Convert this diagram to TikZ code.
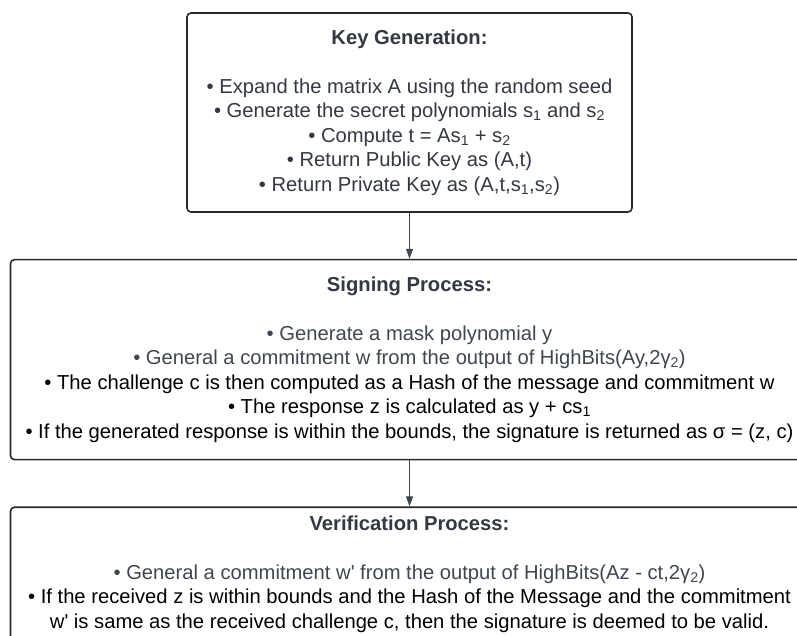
\documentclass[tikz,border=0pt]{standalone}
\usepackage{fontspec}
\setmainfont{Liberation Sans}
\usepackage{xcolor}
\definecolor{inkdark}{RGB}{51,56,66}
\definecolor{inkgray}{RGB}{64,70,80}
\definecolor{edgegray}{RGB}{40,40,40}
\usetikzlibrary{arrows.meta,positioning}

\newcommand{\sub}[1]{\textsubscript{#1}}
\newcommand{\heading}[1]{{\bfseries\color{inkdark}#1}}

\begin{document}
\begin{tikzpicture}[
      x=1pt, y=-1pt,
      font=\fontsize{20.2}{24.5}\selectfont,
      node distance=46pt,
      box/.style={draw=edgegray, line width=1.6pt, rounded corners=4pt,
                  align=center, inner sep=0pt, fill=white},
      arrow/.style={-{Triangle[length=10pt,width=7pt]}, line width=0.9pt, color=inkgray}
  ]
  \useasboundingbox (0,0) rectangle (797,636);

  \node[box, minimum width=445pt, minimum height=199pt, text=inkdark] (keygen) at (409.5,112.5)
    {\heading{Key Generation:}\\[24.5pt]
     \textbullet{} Expand the matrix A using the random seed\\
     \textbullet{} Generate the secret polynomials s\sub{1} and s\sub{2}\\
     \textbullet{} Compute t = As\sub{1} + s\sub{2}\\
     \textbullet{} Return Public Key as (A,t)\\
     \textbullet{} Return Private Key as (A,t,s\sub{1},s\sub{2})};

  \node[box, minimum width=798pt, minimum height=200pt, below=of keygen] (signing)
    {\heading{Signing Process:}\\[24.5pt]
     {\color{inkgray}\textbullet{} Generate a mask polynomial y}\\
     {\color{inkgray}\textbullet{} General a commitment w from the output of HighBits(Ay,2γ\sub{2})}\\
     \textbullet{} The challenge c is then computed as a Hash of the message and commitment w\\
     \textbullet{} The response z is calculated as y + cs\sub{1}\\
     \textbullet{} If the generated response is within the bounds, the signature is returned as σ = (z, c)};

  \node[box, minimum width=798pt, minimum height=134pt, below=of signing] (verify)
    {\heading{Verification Process:}\\[24.5pt]
     {\color{inkgray}\textbullet{} General a commitment w\textquotesingle{} from the output of HighBits(Az - ct,2γ\sub{2})}\\
     \textbullet{} If the received z is within bounds and the Hash of the Message and the commitment\\
     w\textquotesingle{} is same as the received challenge c, then the signature is deemed to be valid.};

  \draw[arrow] (keygen) -- (signing);
  \draw[arrow] (signing) -- (verify);
\end{tikzpicture}
\end{document}
